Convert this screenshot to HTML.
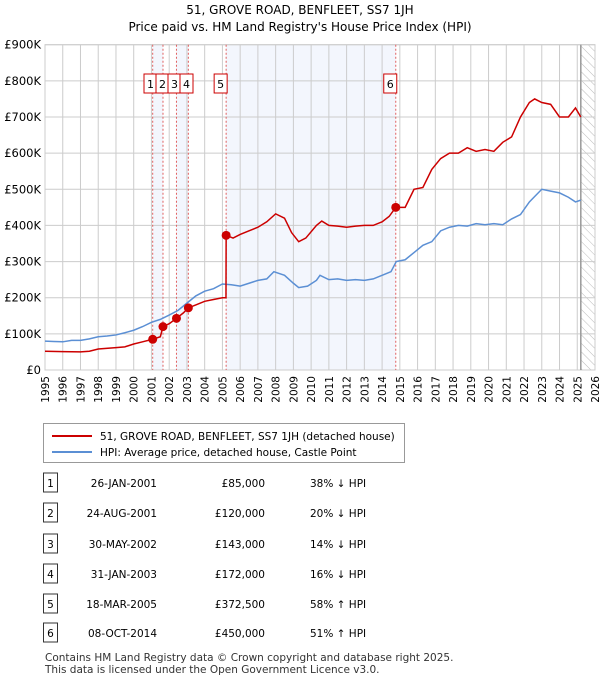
<!DOCTYPE html>
<html><head><meta charset="utf-8"><style>
body{margin:0;background:#fff;font-family:"Liberation Sans","DejaVu Sans",sans-serif;}
svg text{font-family:"DejaVu Sans","Liberation Sans",sans-serif;}
</style></head><body>
<svg id="c" width="600" height="680" xmlns="http://www.w3.org/2000/svg">
<defs><pattern id="hatch" width="6" height="6" patternUnits="userSpaceOnUse" patternTransform="rotate(-45)"><line x1="0" y1="0" x2="0" y2="6" stroke="#bbb" stroke-width="1"/></pattern></defs>
<text x="300" y="14" text-anchor="middle" font-size="12">51, GROVE ROAD, BENFLEET, SS7 1JH</text>
<text x="300" y="31" text-anchor="middle" font-size="12">Price paid vs. HM Land Registry's House Price Index (HPI)</text>
<g id="plot"></g>
<g>
<rect x="43.5" y="423.5" width="361" height="39" fill="#fff" stroke="#999"/>
<line x1="52" y1="436" x2="92" y2="436" stroke="#cc0000" stroke-width="2"/>
<text x="100" y="440" font-size="10.5">51, GROVE ROAD, BENFLEET, SS7 1JH (detached house)</text>
<line x1="52" y1="452" x2="92" y2="452" stroke="#5b8fd4" stroke-width="2"/>
<text x="100" y="456" font-size="10.5">HPI: Average price, detached house, Castle Point</text>
</g>
<g id="table"></g>
<text x="45" y="661" font-size="10.5" fill="#333">Contains HM Land Registry data © Crown copyright and database right 2025.</text>
<text x="45" y="673" font-size="10.5" fill="#333">This data is licensed under the Open Government Licence v3.0.</text>
</svg>
<script>
const yTicks=[0,100,200,300,400,500,600,700,800,900];
const years=[1995,1996,1997,1998,1999,2000,2001,2002,2003,2004,2005,2006,2007,2008,2009,2010,2011,2012,2013,2014,2015,2016,2017,2018,2019,2020,2021,2022,2023,2024,2025,2026];
const saleDates=[2001.07,2001.65,2002.41,2003.08,2005.21,2014.77];
const salePrices=[85,120,143,172,372.5,450];
const saleLabels=["1","2","3","4","5","6"];
const hpiX=[1995,1995.5,1996,1996.5,1997,1997.5,1998,1998.5,1999,1999.5,2000,2000.5,2001,2001.5,2002,2002.5,2003,2003.5,2004,2004.5,2005,2005.5,2006,2006.5,2007,2007.5,2007.9,2008.5,2009,2009.3,2009.8,2010.3,2010.5,2011,2011.5,2012,2012.5,2013,2013.5,2014,2014.5,2014.8,2015.3,2015.8,2016.3,2016.8,2017.3,2017.8,2018.3,2018.8,2019.3,2019.8,2020.3,2020.8,2021.3,2021.8,2022.3,2022.6,2023,2023.5,2024,2024.5,2024.9,2025.2];
const hpiY=[80,79,78,82,82,86,92,94,97,103,110,120,132,140,152,165,185,205,218,225,238,236,232,240,248,252,272,262,240,228,232,248,262,250,252,248,250,248,252,262,272,300,305,325,345,355,385,395,400,398,405,402,405,402,418,430,465,480,500,495,490,478,465,470];
const priceX=[1995,1996,1997,1997.5,1998,1999,1999.5,2000,2000.5,2001.07,2001.5,2001.65,2002,2002.41,2002.8,2003.08,2003.5,2004,2004.5,2005.0,2005.2,2005.21,2005.6,2006,2006.5,2007,2007.5,2008,2008.5,2008.9,2009.3,2009.7,2010.3,2010.6,2011,2011.5,2012,2012.5,2013,2013.5,2014,2014.4,2014.77,2015.3,2015.8,2016.3,2016.8,2017.3,2017.8,2018.3,2018.8,2019.3,2019.8,2020.3,2020.8,2021.3,2021.8,2022.3,2022.6,2023,2023.5,2024,2024.5,2024.9,2025.2];
const priceY=[52,51,50,52,58,62,64,72,78,85,92,120,128,143,158,172,180,190,195,200,200,372.5,365,375,385,395,410,432,420,380,355,365,400,412,400,398,395,398,400,400,410,425,450,450,500,505,555,585,600,600,615,605,610,605,630,645,700,740,750,740,735,700,700,725,700];
const NS="http://www.w3.org/2000/svg";
const L=45,R=595,T=44.7,B=370;
const xs=y=>L+(y-1995)*(R-L)/31;
const ys=v=>B-v*(B-T)/900;
const g=document.getElementById('plot');
function mk(t,a,p){const e=document.createElementNS(NS,t);for(const k in a)e.setAttribute(k,a[k]);(p||g).appendChild(e);return e;}
[[0,1],[2,3],[4,5]].forEach(([a,b])=>{const r=mk('rect',{x:xs(saleDates[a]),y:T,width:xs(saleDates[b])-xs(saleDates[a]),height:B-T,fill:'#f3f6fd'});

});
const h=mk('rect',{x:xs(2025.2),y:T,width:R-xs(2025.2),height:B-T,fill:'url(#hatch)'});


years.forEach(y=>{const l=mk('line',{x1:xs(y),x2:xs(y),y1:T,y2:B,stroke:'#ccc'});


const t=mk('text',{x:0,y:0,'font-size':10.5,'text-anchor':'end',transform:`translate(${xs(y)+4},${B+6}) rotate(-90)`});t.textContent=y;

});
yTicks.forEach(v=>{const l=mk('line',{x1:L,x2:R,y1:ys(v),y2:ys(v),stroke:'#ccc'});


const t=mk('text',{x:L-4,y:ys(v)+4,'font-size':11.5,'text-anchor':'end'});t.textContent=v==0?'£0':'£'+v+'K';

});
const br=mk('rect',{x:L,y:T,width:R-L,height:B-T,fill:'none',stroke:'#ccc'});


const nl=mk('line',{x1:xs(2025.2),x2:xs(2025.2),y1:T,y2:B,stroke:'#999','stroke-width':1.5});


saleDates.forEach((d,i)=>{const l=mk('line',{x1:xs(d),x2:xs(d),y1:T,y2:B,stroke:'#e06060','stroke-dasharray':'2,2'});

});
const hp=mk('polyline',{points:hpiX.map((x,i)=>xs(x)+','+ys(hpiY[i])).join(' '),fill:'none',stroke:'#5b8fd4','stroke-width':1.5});


const pp=mk('polyline',{points:priceX.map((x,i)=>xs(x)+','+ys(priceY[i])).join(' '),fill:'none',stroke:'#cc0000','stroke-width':1.5});


const boxX=[150,162,174,186,221,393];
saleDates.forEach((d,i)=>{const p=mk('circle',{cx:xs(d),cy:ys(salePrices[i]),r:4.5,fill:'#cc0000'});


const bx=i<4?boxX[i]:xs(d)-6;
const r=mk('rect',{x:bx-6,y:74,width:13,height:19,fill:'#fff',stroke:'#cc0000'});


const t=mk('text',{x:bx+0.5,y:88,'font-size':11,'text-anchor':'middle'});t.textContent=saleLabels[i];

});
const tbl=document.getElementById('table');
const rows=[["26-JAN-2001","£85,000","38% ↓ HPI"],["24-AUG-2001","£120,000","20% ↓ HPI"],["30-MAY-2002","£143,000","14% ↓ HPI"],["31-JAN-2003","£172,000","16% ↓ HPI"],["18-MAR-2005","£372,500","58% ↑ HPI"],["08-OCT-2014","£450,000","51% ↑ HPI"]];
const rowY=[483,513,544,574,604,633];
rows.forEach((r,i)=>{const y=rowY[i];
const b=mk('rect',{x:43.5,y:y-10,width:14,height:19,fill:'#fff',stroke:'#333'},tbl);


const n=mk('text',{x:50.5,y:y+4,'font-size':10.5,'text-anchor':'middle'},tbl);n.textContent=i+1;


const d=mk('text',{x:157,y:y+4,'font-size':10.5,'text-anchor':'end'},tbl);d.textContent=r[0];


const p=mk('text',{x:265,y:y+4,'font-size':10.5,'text-anchor':'end'},tbl);p.textContent=r[1];


const c=mk('text',{x:310,y:y+4,'font-size':10.5},tbl);c.textContent=r[2];

});
</script>
</body></html>
